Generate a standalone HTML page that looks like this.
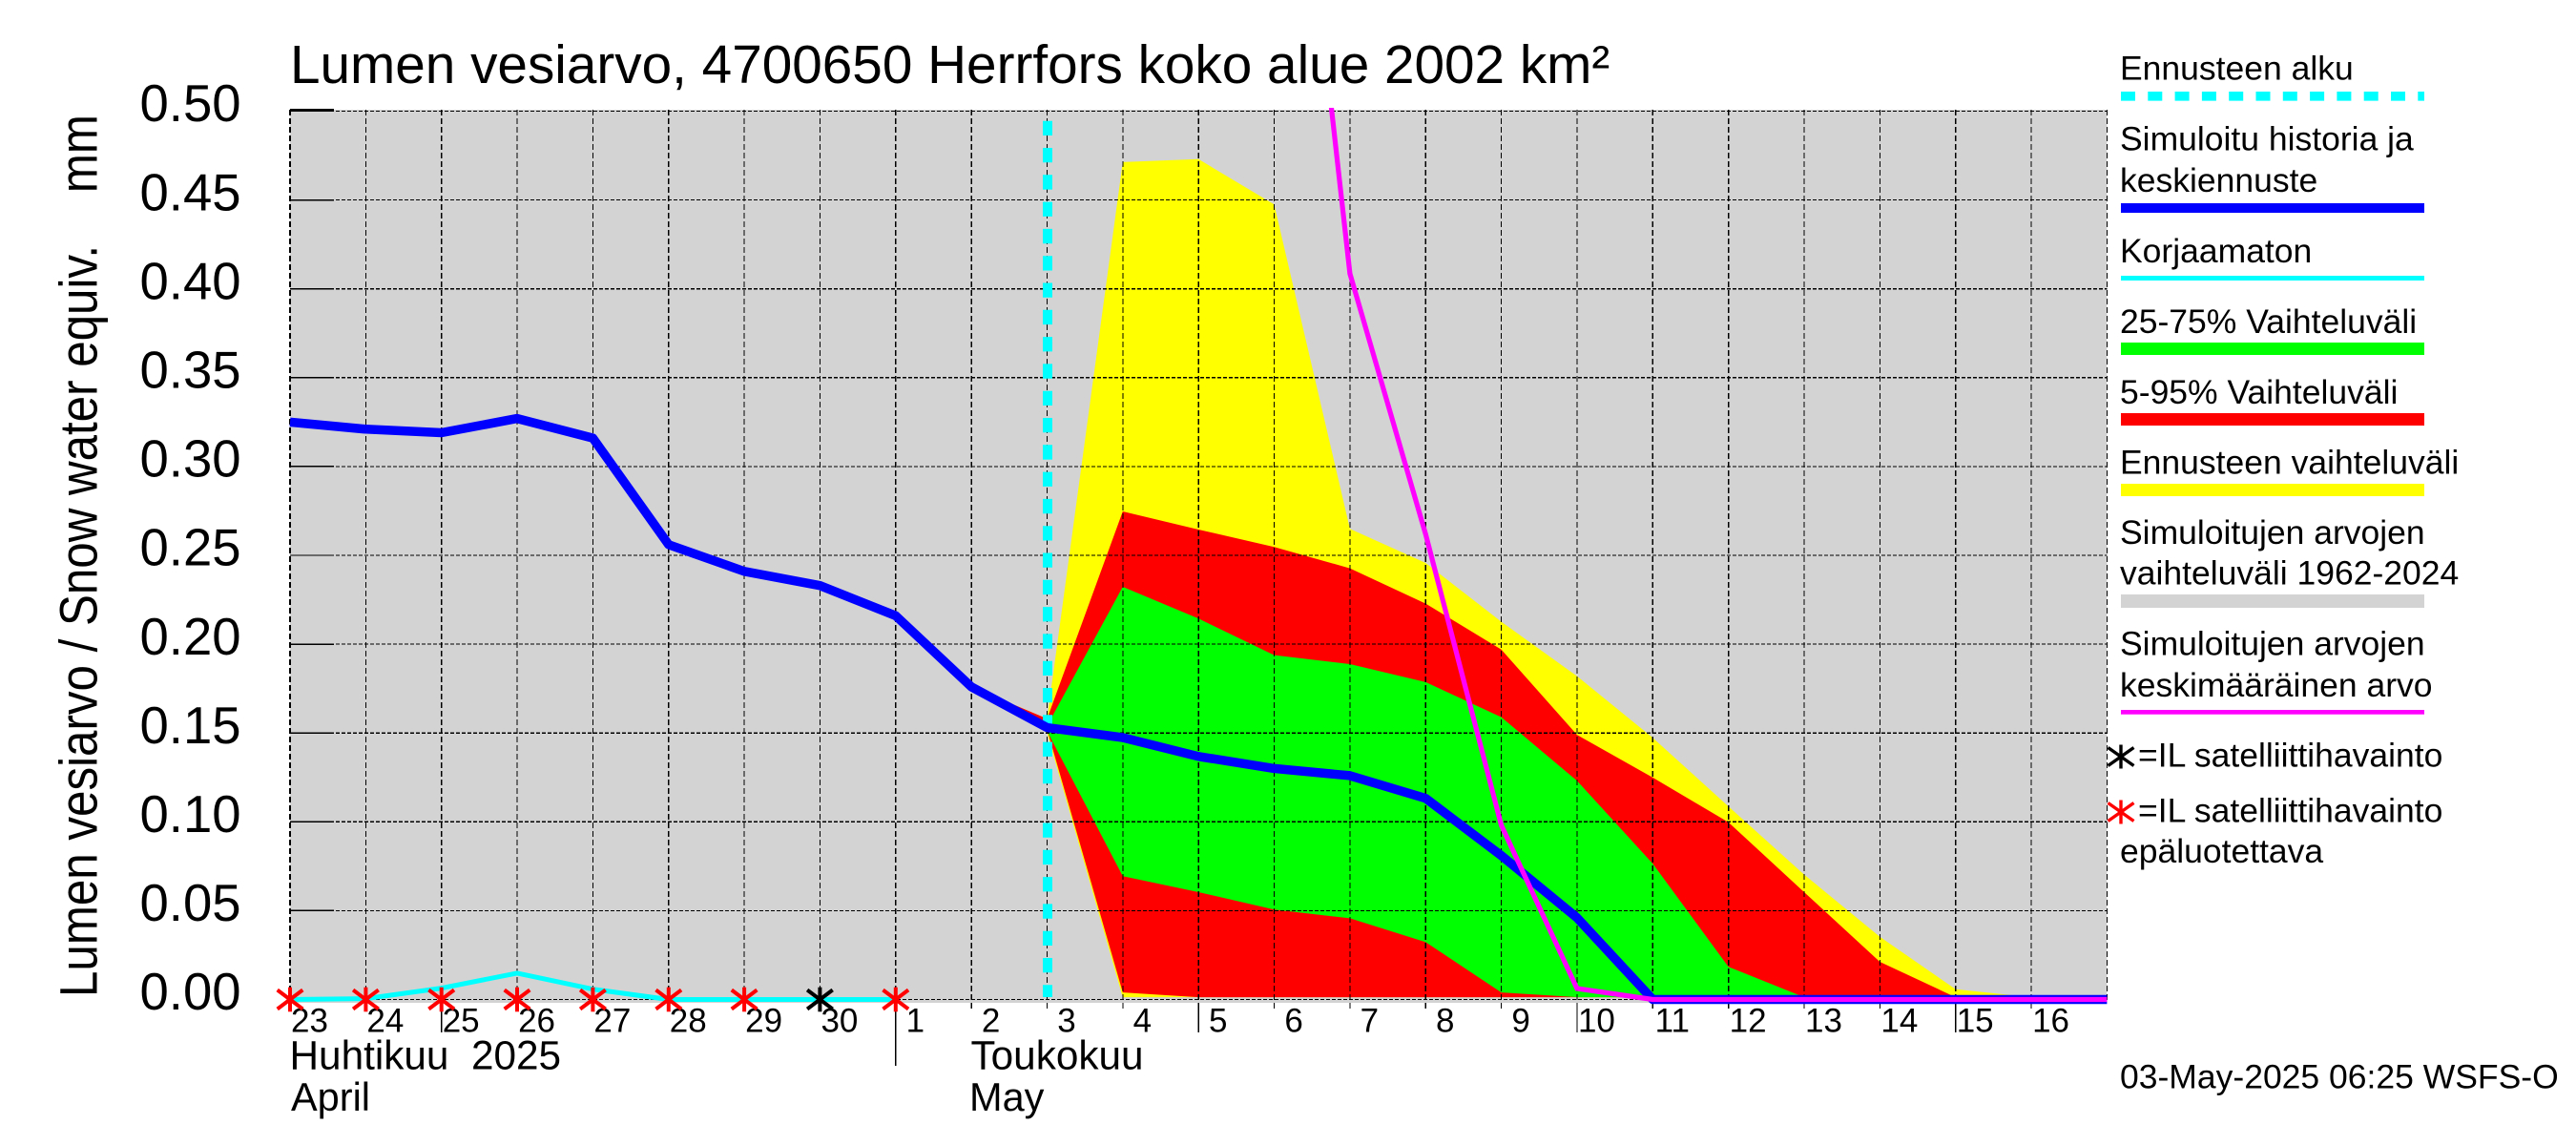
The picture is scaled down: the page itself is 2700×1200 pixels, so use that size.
<!DOCTYPE html>
<html lang="fi">
<head>
<meta charset="utf-8">
<title>Lumen vesiarvo, 4700650 Herrfors koko alue 2002 km²</title>
<style>
html,body{margin:0;padding:0;background:#fff;}
svg{display:block;}
text{font-family:"Liberation Sans",sans-serif;fill:#000;white-space:pre;}
.leg{font-size:35.5px;}
</style>
</head>
<body>
<svg id="chart" xmlns="http://www.w3.org/2000/svg" width="2700" height="1200" viewBox="0 0 2700 1200">
  <rect x="0" y="0" width="2700" height="1200" fill="#ffffff"/>
  <text x="304" y="87" font-size="56.7">Lumen vesiarvo, 4700650 Herrfors koko alue 2002 km²</text>
  <text transform="translate(101.5,1045) rotate(-90) scale(1,1.12)" font-size="49.3">Lumen vesiarvo / Snow water equiv.    mm</text>

  <g id="plot"></g>

  <g>
    <text class="leg" x="2222" y="83.5">Ennusteen alku</text>
    <line x1="2223" y1="100.8" x2="2541" y2="100.8" stroke="#00ffff" stroke-width="9.7" stroke-dasharray="15 13.3"/>
    <text class="leg" x="2222" y="157.5">Simuloitu historia ja</text>
    <text class="leg" x="2222" y="201">keskiennuste</text>
    <rect x="2223" y="213" width="318" height="10" fill="#0000ff"/>
    <text class="leg" x="2222" y="275">Korjaamaton</text>
    <rect x="2223" y="289" width="318" height="5" fill="#00ffff"/>
    <text class="leg" x="2222" y="349">25-75% Vaihteluväli</text>
    <rect x="2223" y="359" width="318" height="13" fill="#00ff00"/>
    <text class="leg" x="2222" y="423">5-95% Vaihteluväli</text>
    <rect x="2223" y="433" width="318" height="13" fill="#ff0000"/>
    <text class="leg" x="2222" y="496.5">Ennusteen vaihteluväli</text>
    <rect x="2223" y="507" width="318" height="13" fill="#ffff00"/>
    <text class="leg" x="2222" y="570">Simuloitujen arvojen</text>
    <text class="leg" x="2222" y="612.5">vaihteluväli 1962-2024</text>
    <rect x="2223" y="623" width="318" height="14" fill="#d3d3d3"/>
    <text class="leg" x="2222" y="686.5">Simuloitujen arvojen</text>
    <text class="leg" x="2222" y="730">keskimääräinen arvo</text>
    <rect x="2223" y="744" width="318" height="4.7" fill="#ff00ff"/>
    <g transform="translate(2223,793)" stroke="#000000" stroke-width="3.4" fill="none">
      <line x1="0" y1="-12.5" x2="0" y2="12.5"/><line x1="-13.5" y1="-9.5" x2="13.5" y2="9.5"/><line x1="-13.5" y1="9.5" x2="13.5" y2="-9.5"/>
    </g>
    <text class="leg" x="2241" y="803.5">=IL satelliittihavainto</text>
    <g transform="translate(2223,851)" stroke="#ff0000" stroke-width="3.4" fill="none">
      <line x1="0" y1="-12.5" x2="0" y2="12.5"/><line x1="-13.5" y1="-9.5" x2="13.5" y2="9.5"/><line x1="-13.5" y1="9.5" x2="13.5" y2="-9.5"/>
    </g>
    <text class="leg" x="2241" y="861.5">=IL satelliittihavainto</text>
    <text class="leg" x="2222" y="904">epäluotettava</text>
  </g>
  <text class="leg" x="2222" y="1140.5">03-May-2025 06:25 WSFS-O</text>

  <text x="303.5" y="1120.5" font-size="42.3">Huhtikuu  2025</text>
  <text x="305" y="1164" font-size="41.5">April</text>
  <text x="1017.5" y="1120.5" font-size="42.3">Toukokuu</text>
  <text x="1016" y="1164" font-size="41.5">May</text>
</svg>

<script>
// ---- chart data ----
const dayLabels = ['23','24','25','26','27','28','29','30','1','2','3','4','5','6','7','8','9','10','11','12','13','14','15','16'];
const longTickDays = ['25','5','10','15'];
const monthTickDays = ['1'];
const yTickValues = [0.00,0.05,0.10,0.15,0.20,0.25,0.30,0.35,0.40,0.45,0.50];
const yTickLabels = ['0.00','0.05','0.10','0.15','0.20','0.25','0.30','0.35','0.40','0.45','0.50'];

// full-period series, one value per day from 23 April (last value is the right plot edge)
const simulatedMean = [0.325,0.321,0.319,0.327,0.316,0.256,0.241,0.233,0.216,0.176,0.153,0.1474,0.1368,0.130,0.126,0.1132,0.081,0.046,0,0,0,0,0,0,0];
const uncorrected = [0,0.0005,0.0064,0.0148,0.0058,0,0,0,0];

// climatological mean, starting at day index 13 (its line leaves the top of the plot)
const climateMeanStart = 13;
const climateMean = [0.79,0.4086,0.2618,0.098,0.0062,0,0,0,0,0,0,0];

// forecast ranges, starting at day index 9
const forecastStart = 9;
const forecastOriginIndex = 10;
const yellowUpper = [0.176,0.158,0.4713,0.473,0.4475,0.2649,0.2457,0.2126,0.182,0.1473,0.1087,0.0703,0.0353,0.0058,0.0013,0.0013];
const yellowLower = [0.176,0.150,0.0013,0.0013,0.0013,0.0013,0.0013,0.0013,0.0013,0.0013,0.0013,0.0013,0.0013,0.0013,0.0013,0.0013];
const redUpper = [0.176,0.158,0.2747,0.2645,0.2547,0.2427,0.2228,0.197,0.149,0.1249,0.0998,0.0604,0.0212,0.0013,0.0013,0.0013];
const redLower = [0.176,0.152,0.004,0.0013,0.0013,0.0013,0.0013,0.0013,0.0013,0.0013,0.0013,0.0013,0.0013,0.0013,0.0013,0.0013];
const greenUpper = [0.176,0.154,0.2323,0.2144,0.1938,0.1888,0.1786,0.1589,0.1231,0.0765,0.0184,0.0013,0.0013,0.0013,0.0013,0.0013];
const greenLower = [0.176,0.151,0.0694,0.0604,0.0506,0.0457,0.0323,0.004,0.0013,0.0013,0.0013,0.0013,0.0013,0.0013,0.0013,0.0013];

// satellite observations: day index, value, reliable?
const satelliteDays = [0,1,2,3,4,5,6,7,8];
const satelliteValues = [0,0,0,0,0,0,0,0,0];
const satelliteReliable = [false,false,false,false,false,false,false,true,false];

// ---- axis functions ----
const X0 = 304, DAY_W = 79.35, Y0 = 1047.5, PER_UNIT = 1862;
const PLOT_TOP = 115, PLOT_BOTTOM = 1051, DAY_COUNT = 24;
function xScale(i){ return X0 + DAY_W * i; }
function yScale(v){ return Y0 - PER_UNIT * v; }

const NS = 'http://www.w3.org/2000/svg';
const plot = document.getElementById('plot');
function make(tag, attrs, parent){
  const el = document.createElementNS(NS, tag);
  for (const k in attrs) el.setAttribute(k, attrs[k]);
  (parent || plot).appendChild(el);
  return el;
}
function linePoints(values, start){
  return values.map(function(v,i){ return xScale(start+i).toFixed(1)+','+yScale(v).toFixed(1); }).join(' ');
}
function bandPoints(upper, lower, start){
  const a = upper.map(function(v,i){ return xScale(start+i).toFixed(1)+','+yScale(v).toFixed(1); });
  const b = lower.map(function(v,i){ return xScale(start+i).toFixed(1)+','+yScale(v).toFixed(1); }).reverse();
  return a.concat(b).join(' ');
}

// clip for the mean line, which runs out of the top of the plot
const defs = make('defs', {});
const clip = make('clipPath', {id:'plot-clip'}, defs);
make('rect', {x:X0-5, y:PLOT_TOP-2, width:DAY_W*DAY_COUNT+10, height:PLOT_BOTTOM-PLOT_TOP+20}, clip);

// background range
const bg = make('rect', {x:X0, y:PLOT_TOP, width:xScale(DAY_COUNT)-X0, height:PLOT_BOTTOM-PLOT_TOP, fill:'#d3d3d3'});



// forecast bands
const yellowBand = make('polygon', {points:bandPoints(yellowUpper,yellowLower,forecastStart), fill:'#ffff00'});


const redBand = make('polygon', {points:bandPoints(redUpper,redLower,forecastStart), fill:'#ff0000'});


const greenBand = make('polygon', {points:bandPoints(greenUpper,greenLower,forecastStart), fill:'#00ff00'});



// grid: horizontal
yTickValues.forEach(function(v, idx){
  const y = yScale(v);
  const g = make('line', {x1:X0, y1:y, x2:xScale(DAY_COUNT), y2:y, stroke:'#000', 'stroke-width':1.2, 'stroke-dasharray':'4 2', 'shape-rendering':'crispEdges'});
  
  
  if (v > 0) {
    const t = make('line', {x1:X0, y1:y, x2:350, y2:y, stroke:'#000', 'stroke-width':(v >= 0.5 ? 3 : 1.4), 'shape-rendering':'crispEdges'});
    if (v >= 0.5) t.setAttribute('transform', 'translate(0,-0.8)');
    
    
  }
  const lab = make('text', {x:146.5, y:y+10.7, 'font-size':54.5});
  lab.textContent = yTickLabels[idx];
  
  
});

// grid: vertical, ticks, day labels
for (let i = 0; i <= DAY_COUNT; i++) {
  const x = xScale(i);
  const g = make('line', {x1:x, y1:PLOT_TOP, x2:x, y2:PLOT_BOTTOM, stroke:'#000', 'stroke-width':(i === 0 ? 2 : 1.2), 'stroke-dasharray':'6 3', 'shape-rendering':'crispEdges'});
  
  
  if (i < DAY_COUNT) {
    const d = dayLabels[i];
    const end = monthTickDays.indexOf(d) >= 0 ? 1117 : (longTickDays.indexOf(d) >= 0 ? 1082 : 1057);
    const t = make('line', {x1:x, y1:PLOT_BOTTOM, x2:x, y2:end, stroke:'#000', 'stroke-width':1.2, 'shape-rendering':'crispEdges'});
    
    
    const lab = make('text', {x:x+20.5, y:1081.5, 'font-size':35, 'text-anchor':'middle'});
    lab.textContent = d;
    
    
  }
}

// forecast start marker
const fx = xScale(forecastOriginIndex) + 0.5;
const startLine = make('line', {x1:fx, y1:126.7, x2:fx, y2:1045, stroke:'#00ffff', 'stroke-width':10, 'stroke-dasharray':'15.3 13'});



// uncorrected series
const cyanLine = make('polyline', {points:linePoints(uncorrected,0), fill:'none', stroke:'#00ffff', 'stroke-width':5});



// simulated history and median forecast
const blueLine = make('polyline', {points:linePoints(simulatedMean,0), fill:'none', stroke:'#0000ff', 'stroke-width':9.5, 'stroke-linejoin':'round'});



// climatological mean
const magentaLine = make('polyline', {points:linePoints(climateMean,climateMeanStart), fill:'none', stroke:'#ff00ff', 'stroke-width':5.2, 'clip-path':'url(#plot-clip)'});



// satellite stars
satelliteDays.forEach(function(d, idx){
  const color = satelliteReliable[idx] ? '#000000' : '#ff0000';
  const g = make('g', {transform:'translate('+xScale(d).toFixed(1)+','+yScale(satelliteValues[idx]).toFixed(1)+')', stroke:color, 'stroke-width':4, fill:'none'});
  
  
  make('line', {x1:0, y1:-12.8, x2:0, y2:12.8}, g);
  make('line', {x1:-13.3, y1:-10, x2:13.3, y2:10}, g);
  make('line', {x1:-13.3, y1:10, x2:13.3, y2:-10}, g);
});
</script>
</body>
</html>
